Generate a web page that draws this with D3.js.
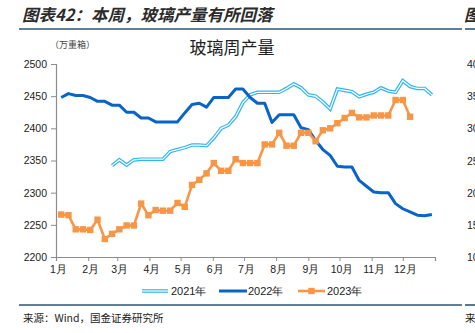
<!DOCTYPE html>
<html>
<head>
<meta charset="utf-8">
<script src="https://cdn.jsdelivr.net/npm/d3@7"></script>
<style>
  body { margin: 0; background: #fff; }
  svg { display: block; }
</style>
</head>
<body>
<svg width="475" height="333"></svg>
<script>
// weekly glass output (万重箱), one value per week, week 0 ~ Jan 6
const seriesNames = ["2021年", "2022年", "2023年"];
const monthLabels = ["1月", "2月", "3月", "4月", "5月", "6月", "7月", "8月", "9月", "10月", "11月", "12月"];
const monthStartDays = [0, 31, 59, 90, 120, 151, 181, 212, 243, 273, 304, 334, 365];
const yTicks = [2200, 2250, 2300, 2350, 2400, 2450, 2500];
const rightTicks = ["40", "35", "30", "25", "20", "15", "10"];

const v2021 = [null, null, null, null, null, null, null,
  2342, 2351, 2343, 2351, 2352, 2352, 2352, 2352, 2364, 2367,
  2370, 2374, 2374, 2373, 2385, 2400, 2405, 2418, 2440, 2452,
  2456, 2456, 2456, 2456, 2462, 2469, 2463, 2452, 2450, 2441,
  2430, 2461, 2459, 2457, 2449, 2453, 2456, 2463, 2458, 2456,
  2474, 2465, 2462, 2462, 2452];
const v2022 = [2448, 2454, 2451, 2451, 2448, 2442, 2442, 2436, 2436, 2425,
  2425, 2416, 2416, 2410, 2410, 2410, 2410, 2424, 2437, 2439,
  2433, 2448, 2448, 2448, 2461, 2461, 2448, 2439, 2439, 2409,
  2421, 2421, 2421, 2401, 2398, 2381, 2367, 2358, 2341, 2340,
  2340, 2319, 2310, 2301, 2300, 2300, 2283, 2275, 2270, 2265,
  2264, 2266];
const v2023 = [2266, 2265, 2243, 2243, 2242, 2258, 2228, 2236, 2243, 2249,
  2249, 2283, 2265, 2273, 2272, 2272, 2284, 2278, 2312, 2320,
  2330, 2346, 2334, 2334, 2352, 2346, 2346, 2346, 2375, 2375,
  2393, 2373, 2373, 2393, 2393, 2380, 2397, 2400, 2408, 2416,
  2424, 2417, 2417, 2420, 2420, 2420, 2444, 2444, 2418];

const c2021 = "#33b6ee", c2022 = "#0a64c8", c2023 = "#f79646";
const numFont = "'Liberation Sans', Arial, sans-serif";
const cjkFont = "'Noto Sans CJK SC', sans-serif";

var svg = d3.select("svg");

var x = d3.scaleLinear().domain([0, 365]).range([56, 435]);
var y = d3.scaleLinear().domain([2200, 2500]).range([257, 64]);
var dayOf = i => 5 + 7 * i;

// header
svg.append("text")
  .attr("x", 22).attr("y", 21)
  .attr("font-family", cjkFont)
  .attr("font-size", 16.5)
  .attr("font-weight", "bold")
  .attr("font-style", "italic")
  .attr("fill", "#2b2b2b")
  .text("图表42：本周，玻璃产量有所回落");
svg.append("text")
  .attr("x", 464).attr("y", 21)
  .attr("font-family", cjkFont).attr("font-size", 16.5)
  .attr("font-weight", "bold").attr("font-style", "italic")
  .attr("fill", "#2b2b2b").text("图");

// separator lines
[[19, 462], [465, 475]].forEach(s => {
  svg.append("line").attr("x1", s[0]).attr("x2", s[1]).attr("y1", 29).attr("y2", 29)
    .attr("stroke", "#2d5675").attr("stroke-width", 1.6);
  svg.append("line").attr("x1", s[0]).attr("x2", s[1]).attr("y1", 305).attr("y2", 305)
    .attr("stroke", "#2d5675").attr("stroke-width", 1.6);
});

// chart title + unit
svg.append("text")
  .attr("x", 232).attr("y", 54)
  .attr("text-anchor", "middle")
  .attr("font-family", cjkFont).attr("font-size", 17)
  .attr("fill", "#222")
  .text("玻璃周产量");
svg.append("text")
  .attr("x", 50).attr("y", 48)
  .attr("font-family", cjkFont).attr("font-size", 9)
  .attr("fill", "#444")
  .text("（万重箱）");

// y axis
var yAxis = svg.append("g")
  .attr("transform", "translate(56,0)")
  .call(d3.axisLeft(y).tickValues(yTicks).tickFormat(d3.format("d")).tickSize(5).tickPadding(4));
yAxis.select(".domain").attr("stroke", "#8c8c8c").attr("stroke-width", 1.2);
yAxis.selectAll(".tick line").attr("stroke", "#8c8c8c");
yAxis.selectAll(".tick text")
  .attr("font-family", numFont).attr("font-size", 10.5).attr("fill", "#222");

// x axis
var xAxis = svg.append("g")
  .attr("transform", "translate(0,257)")
  .call(d3.axisBottom(x).tickValues(monthStartDays).tickSize(4).tickPadding(5)
    .tickFormat((d, i) => monthLabels[i] || ""));
xAxis.select(".domain").attr("stroke", "#8c8c8c").attr("stroke-width", 1.2);
xAxis.selectAll(".tick line").attr("stroke", "#8c8c8c");
xAxis.selectAll(".tick text")
  .attr("font-family", numFont).attr("font-size", 10.5).attr("fill", "#222")
  .attr("dx", 2);

// lines
var line = d3.line()
  .defined(d => d != null)
  .x((d, i) => x(dayOf(i)))
  .y(d => y(d));

// 2021: double line look
svg.append("path").datum(v2021).attr("d", line)
  .attr("fill", "none").attr("stroke", c2021).attr("stroke-width", 3.6)
  .attr("stroke-linejoin", "miter");
svg.append("path").datum(v2021).attr("d", line)
  .attr("fill", "none").attr("stroke", "#fff").attr("stroke-width", 1.2);

svg.append("path").datum(v2022).attr("d", line)
  .attr("fill", "none").attr("stroke", c2022).attr("stroke-width", 3)
  .attr("stroke-linejoin", "round");

svg.append("path").datum(v2023).attr("d", line)
  .attr("fill", "none").attr("stroke", c2023).attr("stroke-width", 2.6);
svg.append("g").selectAll("rect")
  .data(v2023)
  .enter()
  .append("rect")
  .attr("x", (d, i) => x(dayOf(i)) - 3.2)
  .attr("y", d => y(d) - 3.2)
  .attr("width", 6.4).attr("height", 6.4)
  .attr("fill", c2023);

// right neighbour chart, cut off
svg.append("g").selectAll("text")
  .data(rightTicks)
  .enter()
  .append("text")
  .attr("x", 467)
  .attr("y", (d, i) => y(yTicks[yTicks.length - 1 - i]) + 4)
  .attr("font-family", numFont).attr("font-size", 10.5).attr("fill", "#222")
  .text(d => d);

// legend
var legend = svg.append("g").attr("transform", "translate(0,291)");
var legendX = [142, 219, 298];
legendX.forEach((lx, i) => {
  if (i === 0) {
    legend.append("line").attr("x1", lx).attr("x2", lx + 26).attr("y1", 0).attr("y2", 0)
      .attr("stroke", c2021).attr("stroke-width", 3.6);
    legend.append("line").attr("x1", lx).attr("x2", lx + 26).attr("y1", 0).attr("y2", 0)
      .attr("stroke", "#fff").attr("stroke-width", 1.2);
  } else if (i === 1) {
    legend.append("line").attr("x1", lx).attr("x2", lx + 28).attr("y1", 0).attr("y2", 0)
      .attr("stroke", c2022).attr("stroke-width", 3);
  } else {
    legend.append("line").attr("x1", lx).attr("x2", lx + 27).attr("y1", 0).attr("y2", 0)
      .attr("stroke", c2023).attr("stroke-width", 2.6);
    legend.append("rect").attr("x", lx + 10.3).attr("y", -3.2).attr("width", 6.4).attr("height", 6.4)
      .attr("fill", c2023);
  }
  legend.append("text")
    .attr("x", lx + 29).attr("y", 4)
    .attr("font-family", numFont).attr("font-size", 11).attr("fill", "#222")
    .text(seriesNames[i]);
});

// source
svg.append("text")
  .attr("x", 23).attr("y", 322)
  .attr("font-family", cjkFont).attr("font-size", 10.5).attr("fill", "#222")
  .text("来源：Wind，国金证券研究所");
svg.append("text")
  .attr("x", 465).attr("y", 322)
  .attr("font-family", cjkFont).attr("font-size", 10.5).attr("fill", "#222")
  .text("来");
</script>
</body>
</html>
